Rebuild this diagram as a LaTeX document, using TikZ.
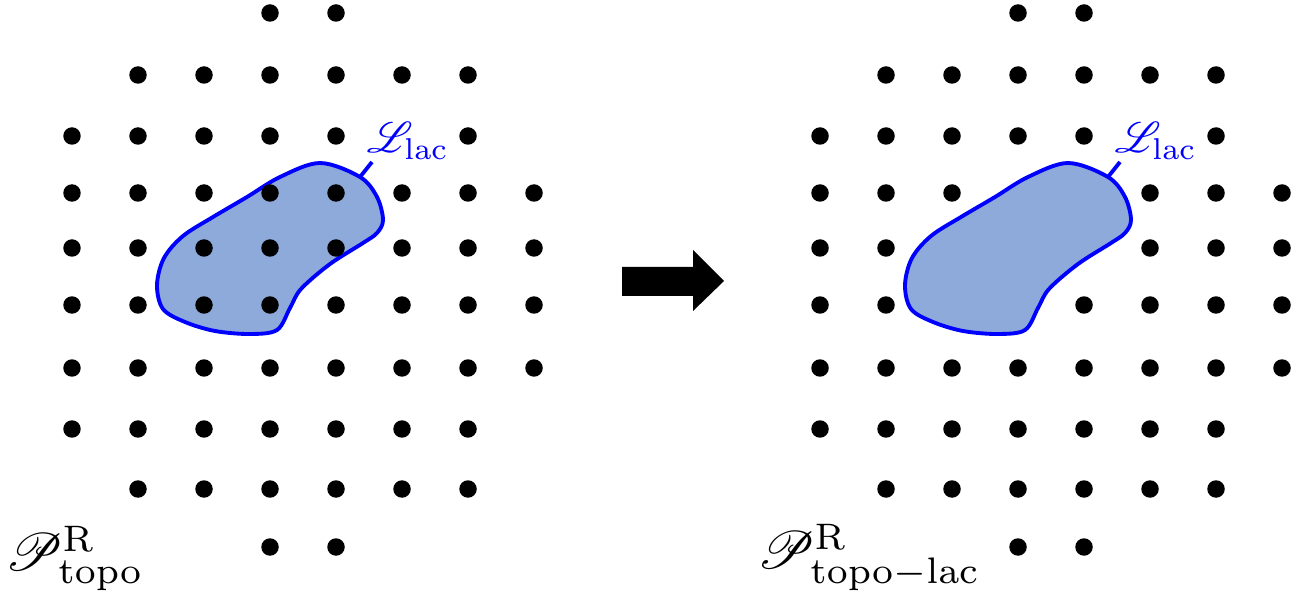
\documentclass[tikz,border=0pt]{standalone}
\usepackage{amsmath}
\usepackage{mathrsfs}
\usepackage{xcolor}
\usetikzlibrary{positioning}
\definecolor{lacfill}{RGB}{141,170,219}
\tikzset{
    site/.style={fill=black},
    lacune/.style={draw=blue, fill=lacfill, line width=2.2pt},
    leader/.style={draw=blue, line width=2.2pt},
    laclabel/.style={blue, inner sep=0pt, scale=2.45},
    setlabel/.style={inner sep=0pt, scale=3.0},
}
% outline of the lacuna, shared by both panels
\newcommand{\lacunapath}{plot[smooth cycle, tension=0.55] coordinates {
    (320,163) (360,177) (377,197) (383,220) (377,233) (363,243)
    (330,264) (301,289) (290,308) (277,330) (250,334) (215,331)
    (185,322) (163,309) (157,285) (164,258) (183,236) (213,217)
    (247,197) (280,177)}}

\begin{document}
\begin{tikzpicture}[x=0.02cm, y=-0.02cm]
    \useasboundingbox (0,0) rectangle (1301,594);

    % left panel: full lattice, lacuna drawn underneath
    \draw[lacune] \lacunapath;
    \coordinate (lacL) at (360,177);
    \node[laclabel, anchor=base west] (labL) at (366,153) {$\mathscr{L}_{\mathrm{lac}}$};
    \draw[leader] (lacL) -- (372,162);
    \foreach \y/\cols in {13/{3,4}, 75/{1,...,6}, 136/{0,1,2,3,4,6},
                          193/{0,...,7}, 248/{0,...,7}, 305/{0,...,7},
                          368/{0,...,7}, 429/{0,...,6}, 489/{1,...,6}, 547/{3,4}}
        \foreach \c in \cols
            \fill[site] (72+66*\c,\y) circle (0.175cm);
    \node[setlabel, anchor=south west] (topo) at (4,592)
        {$\mathscr{P}^{\mathrm{R}}_{\mathrm{topo}}$};

    % arrow between the panels
    \fill (622,267) -- (693,267) -- (693,250) -- (724,281)
        -- (693,311) -- (693,296) -- (622,296) -- cycle;

    % right panel: sites inside the lacuna removed
    \begin{scope}[shift={(748,0)}]
        \draw[lacune] \lacunapath;
        \coordinate (lacR) at (360,177);
        \node[laclabel, anchor=base west] (labR) at (366,153) {$\mathscr{L}_{\mathrm{lac}}$};
        \draw[leader] (lacR) -- (372,162);
        \foreach \y/\cols in {13/{3,4}, 75/{1,...,6}, 136/{0,1,2,3,4,6},
                              193/{0,1,2,5,6,7}, 248/{0,1,5,6,7}, 305/{0,1,4,5,6,7},
                              368/{0,...,7}, 429/{0,...,6}, 489/{1,...,6}, 547/{3,4}}
            \foreach \c in \cols
                \fill[site] (72+66*\c,\y) circle (0.175cm);
        \node[setlabel, anchor=south west] (topolac) at (8,592)
            {$\mathscr{P}^{\mathrm{R}}_{\mathrm{topo-lac}}$};
    \end{scope}
\end{tikzpicture}
\end{document}
